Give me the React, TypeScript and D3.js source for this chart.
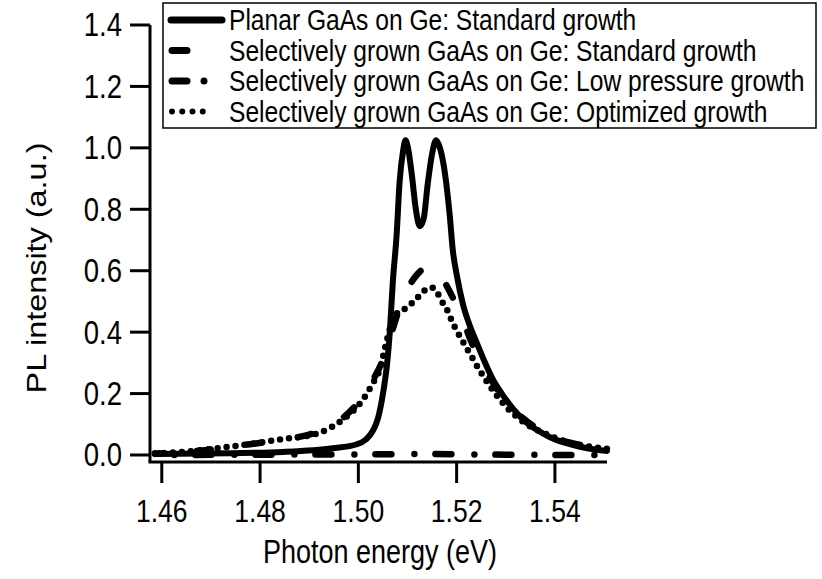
import React from "react";
import * as d3 from "d3";

const xTicks = [1.46, 1.48, 1.5, 1.52, 1.54];
const yTicks = [0.0, 0.2, 0.4, 0.6, 0.8, 1.0, 1.2, 1.4];

const legendLabels = [
  "Planar GaAs on Ge: Standard growth",
  "Selectively grown GaAs on Ge: Standard growth",
  "Selectively grown GaAs on Ge: Low pressure growth",
  "Selectively grown GaAs on Ge: Optimized growth",
];

// [photon energy (eV), PL intensity (a.u.)]
const planar: [number, number][] = [
  [1.4586, 0.003], [1.4738, 0.006], [1.4846, 0.01], [1.4948, 0.022], [1.4997, 0.035],
  [1.5015, 0.05], [1.503, 0.08], [1.504, 0.12], [1.5048, 0.18], [1.5054, 0.24],
  [1.5058, 0.29], [1.5064, 0.4], [1.507, 0.56], [1.5078, 0.72], [1.5084, 0.89],
  [1.5091, 0.99], [1.5096, 1.025], [1.5101, 1.0], [1.5109, 0.91], [1.5117, 0.8],
  [1.5125, 0.745], [1.5133, 0.77], [1.5141, 0.88], [1.515, 0.98], [1.5158, 1.025],
  [1.5166, 1.0], [1.5174, 0.94], [1.518, 0.87], [1.5186, 0.78], [1.5192, 0.67],
  [1.5201, 0.58], [1.5213, 0.49], [1.5227, 0.42], [1.5241, 0.365], [1.5258, 0.3],
  [1.5274, 0.245], [1.5294, 0.195], [1.5315, 0.15], [1.5339, 0.11], [1.5363, 0.082],
  [1.539, 0.058], [1.542, 0.04], [1.5451, 0.027], [1.5481, 0.018], [1.5506, 0.013],
];

const selectiveStandard: [number, number][] = [
  [1.4586, 0.005], [1.4677, 0.014], [1.4779, 0.035], [1.4846, 0.05], [1.4916, 0.075],
  [1.4968, 0.12], [1.5009, 0.19], [1.503, 0.245], [1.505, 0.31], [1.5068, 0.4],
  [1.5084, 0.48], [1.5097, 0.53], [1.5109, 0.565], [1.5121, 0.59], [1.5135, 0.61],
  [1.5148, 0.615], [1.516, 0.6], [1.517, 0.58], [1.518, 0.55], [1.5196, 0.5],
  [1.5213, 0.44], [1.5227, 0.38], [1.5247, 0.31], [1.5274, 0.235], [1.5302, 0.17],
  [1.5343, 0.11], [1.538, 0.072], [1.542, 0.045], [1.5461, 0.03], [1.5506, 0.02],
];

const selectiveLowPressure: [number, number][] = [
  [1.4586, 0.0], [1.48, 0.001], [1.5, 0.002], [1.515, 0.003], [1.53, 0.001], [1.5506, 0.0],
];

const selectiveOptimized: [number, number][] = [
  [1.4586, 0.005], [1.4657, 0.012], [1.4712, 0.022], [1.4779, 0.036], [1.4846, 0.052],
  [1.4916, 0.07], [1.4968, 0.115], [1.5009, 0.18], [1.503, 0.235], [1.5044, 0.28],
  [1.5056, 0.36], [1.5068, 0.43], [1.5078, 0.46], [1.5099, 0.48], [1.5119, 0.51],
  [1.5139, 0.54], [1.515, 0.545], [1.516, 0.53], [1.517, 0.5], [1.518, 0.475],
  [1.5192, 0.43], [1.5207, 0.385], [1.5227, 0.33], [1.5247, 0.275], [1.5274, 0.21],
  [1.5302, 0.155], [1.5343, 0.1], [1.538, 0.07], [1.542, 0.045], [1.5461, 0.03], [1.5506, 0.02],
];

const FONT = "'Liberation Sans', Arial, Helvetica, sans-serif";
const STRETCH = 1.2;

const styles = [
  { dash: undefined as string | undefined, offset: 0, width: 6 },
  { dash: "14 37", offset: 9, width: 6.5 },
  { dash: "16 23 0 21", offset: 19.5, width: 6.5 },
  { dash: "0 9", offset: 0, width: 6.5 },
];

function SText({
  x,
  y,
  size,
  anchor = "start",
  children,
}: {
  x: number;
  y: number;
  size: number;
  anchor?: string;
  children: React.ReactNode;
}) {
  return (
    <text
      transform={`translate(${x},${y}) scale(1,${STRETCH})`}
      textAnchor={anchor}
      dominantBaseline="central"
      fontSize={size}
    >
      {children}
    </text>
  );
}

export default function App() {
  const x = d3.scaleLinear().domain([1.4576, 1.5506]).range([150, 607]);
  const y = d3.scaleLinear().domain([-0.0228, 1.4]).range([462, 25]);
  const line = d3
    .line<[number, number]>()
    .x((d) => x(d[0]))
    .y((d) => y(d[1]))
    .curve(d3.curveMonotoneX);

  const series = [planar, selectiveStandard, selectiveLowPressure, selectiveOptimized];

  const legendX = 163;
  const legendRowY = [20, 50.5, 81, 111.5];

  return (
    <svg
      width={822}
      height={579}
      style={{ position: "absolute", left: 0, top: 0, background: "#fff" }}
      fontFamily={FONT}
    >
      <rect width={822} height={579} fill="#fff" />
      {series.map((s, i) => (
        <path
          key={i}
          d={line(s) ?? ""}
          fill="none"
          stroke="#000"
          strokeWidth={styles[i].width}
          strokeDasharray={styles[i].dash}
          strokeDashoffset={styles[i].offset}
          strokeLinecap="round"
          strokeLinejoin="round"
        />
      ))}
      <line x1={150} y1={y(1.4)} x2={150} y2={462} stroke="#000" strokeWidth={3} />
      <line x1={148.5} y1={462} x2={607} y2={462} stroke="#000" strokeWidth={3} />
      {yTicks.map((t) => (
        <g key={t}>
          <line x1={130} x2={150} y1={y(t)} y2={y(t)} stroke="#000" strokeWidth={3} />
          <SText x={122} y={y(t)} size={27.5} anchor="end">
            {t.toFixed(1)}
          </SText>
        </g>
      ))}
      {xTicks.map((t) => (
        <g key={t}>
          <line x1={x(t)} x2={x(t)} y1={462} y2={483} stroke="#000" strokeWidth={3} />
          <SText x={x(t)} y={511} size={26.5} anchor="middle">
            {t.toFixed(2)}
          </SText>
        </g>
      ))}
      <SText x={380} y={552} size={27} anchor="middle">
        Photon energy (eV)
      </SText>
      <text
        transform={`translate(36,268) rotate(-90) scale(${STRETCH},1)`}
        textAnchor="middle"
        dominantBaseline="central"
        fontSize={27}
      >
        PL intensity (a.u.)
      </text>
      <rect x={legendX} y={3} width={653} height={125} fill="#fff" stroke="#000" strokeWidth={1.5} />
      <line x1={171} x2={222} y1={legendRowY[0]} y2={legendRowY[0]} stroke="#000" strokeWidth={7} strokeLinecap="round" />
      <line x1={172} x2={187} y1={legendRowY[1]} y2={legendRowY[1]} stroke="#000" strokeWidth={7} strokeLinecap="round" />
      <line x1={172} x2={187} y1={legendRowY[2]} y2={legendRowY[2]} stroke="#000" strokeWidth={7} strokeLinecap="round" />
      <line x1={204} x2={204} y1={legendRowY[2]} y2={legendRowY[2]} stroke="#000" strokeWidth={7} strokeLinecap="round" />
      <line x1={172} x2={213} y1={legendRowY[3]} y2={legendRowY[3]} stroke="#000" strokeWidth={6} strokeLinecap="round" strokeDasharray="0 10.25" />
      {legendLabels.map((l, i) => (
        <SText key={l} x={229} y={legendRowY[i]} size={24.6}>
          {l}
        </SText>
      ))}
    </svg>
  );
}
